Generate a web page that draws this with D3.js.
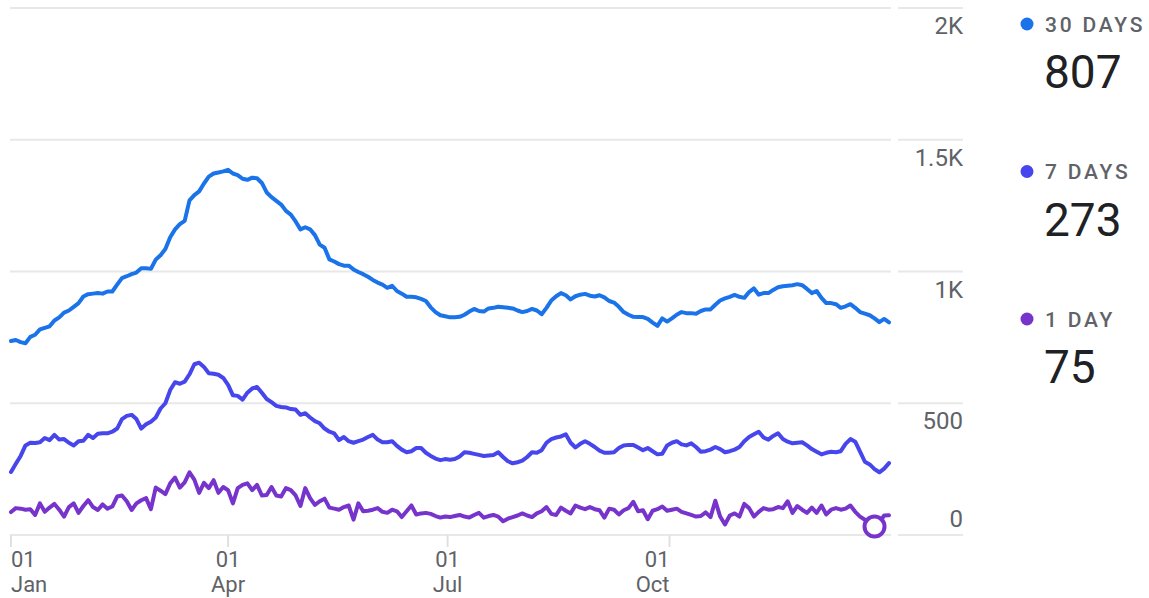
<!DOCTYPE html>
<html>
<head>
<meta charset="utf-8">
<script src="https://cdn.jsdelivr.net/npm/d3@7"></script>
<style>
  body { margin: 0; background: #fff; font-family: Roboto, "Noto Sans", sans-serif; }
  svg { display: block; }
</style>
</head>
<body>
<script>
// one value every 2 days, 1 Jan .. 31 Dec
var startDate = new Date(2023, 0, 1);
var stepDays = 2;

var thirtyDays = [
  736,740,732,728,752,760,780,786,792,814, 826,844,852,866,880,905,914,916,918,916,
  924,924,950,975,982,990,996,1012,1012,1010, 1045,1062,1085,1130,1160,1180,1192,1270,1290,1304,
  1334,1360,1372,1376,1380,1386,1372,1366,1352,1348, 1356,1354,1336,1300,1282,1268,1254,1230,1216,1190,
  1160,1168,1160,1138,1102,1090,1046,1038,1028,1022, 1022,1008,998,990,980,968,958,950,938,946,
  926,916,904,904,902,896,888,864,846,834, 830,826,826,828,836,848,858,850,848,860,
  862,866,864,862,860,852,846,850,858,852, 838,862,890,906,918,910,894,906,912,915,
  908,905,910,902,888,882,866,846,836,828, 827,827,820,806,794,822,810,822,836,846,
  842,842,840,850,856,856,874,890,898,904, 911,904,900,922,936,912,918,918,930,940,
  944,946,948,952,948,934,918,926,900,880, 880,876,862,868,876,862,846,840,834,822,
  808,820,807
];

var sevenDays = [
  239,270,300,340,350,349,352,368,360,380, 362,364,350,340,356,358,380,368,384,386,
  386,392,404,440,452,456,440,404,420,430, 446,480,500,550,580,574,582,610,648,654,
  638,614,612,608,596,570,530,528,514,540, 556,562,540,516,504,490,486,484,478,476,
  456,462,446,432,424,404,392,386,360,372, 356,350,356,362,372,380,362,352,352,356,
  338,324,314,318,330,330,312,300,290,284, 288,286,288,298,314,312,308,304,300,302,
  304,314,296,280,272,276,282,296,314,312, 322,350,364,370,374,382,350,332,346,356,
  346,334,320,312,312,314,330,340,342,342, 332,322,330,318,306,308,340,350,356,344,
  340,348,334,316,318,324,334,326,314,318, 324,334,356,372,382,392,370,362,376,386,
  364,354,348,350,352,340,326,316,306,312, 316,314,318,346,364,354,316,278,268,250,
  238,252,273
];

var oneDay = [
  87,102,100,96,98,76,120,88,104,118, 96,70,106,120,84,110,132,106,95,116,
  100,108,146,150,128,95,120,132,140,98, 180,168,155,196,218,180,200,238,210,160,
  198,178,208,160,182,170,120,178,190,196, 170,190,150,152,182,150,146,178,170,150,
  110,178,140,114,128,138,104,100,96,106, 112,58,120,90,92,96,102,88,84,96,
  90,68,90,112,78,82,84,80,72,66, 70,68,72,76,70,66,76,84,66,72,
  76,70,52,62,68,74,82,74,68,82, 90,106,80,76,104,92,82,112,104,98,
  106,98,94,66,100,96,78,94,102,126, 90,94,60,92,98,108,92,96,100,88,
  82,76,70,72,86,68,130,70,40,74, 82,70,118,102,70,88,102,96,98,106,
  102,128,84,110,96,84,104,84,112,78, 96,102,96,100,112,88,70,58,44,32,
  48,74,75
];

var seriesNames = ["30 DAYS", "7 DAYS", "1 DAY"];
var seriesColors = ["#1a73e8", "#4646ec", "#7634cc"];
var latestValues = [807, 273, 75];
var markerIndex = 179; // highlighted point on the 1 day line

var xTickDates = [new Date(2023, 0, 1), new Date(2023, 3, 1), new Date(2023, 6, 1), new Date(2023, 9, 1)];
var yTicks = [0, 500, 1000, 1500, 2000];
var yTickLabels = ["0", "500", "1K", "1.5K", "2K"];

var width = 1149, height = 598;

var svg = d3.select("body").append("svg")
    .attr("width", width)
    .attr("height", height);

var x = d3.scaleTime()
    .domain([startDate, new Date(2023, 11, 31)])
    .range([11, 889]);

var y = d3.scaleLinear()
    .domain([0, 2000])
    .range([535, 8]);

function dateAt(i) {
  return d3.timeDay.offset(startDate, i * stepDays);
}

// grid lines, split in a plot part and a label part
var grid = svg.append("g");
grid.selectAll(".g1")
    .data(yTicks)
  .enter().append("line")
    .attr("x1", 10).attr("x2", 891)
    .attr("y1", function(d) { return y(d); })
    .attr("y2", function(d) { return y(d); })
    .attr("stroke", "#e8e8e8")
    .attr("stroke-width", 2);
grid.selectAll(".g2")
    .data(yTicks)
  .enter().append("line")
    .attr("x1", 898).attr("x2", 963)
    .attr("y1", function(d) { return y(d); })
    .attr("y2", function(d) { return y(d); })
    .attr("stroke", "#e8e8e8")
    .attr("stroke-width", 2);

// y labels: 0 sits above its line, the rest below
grid.selectAll("text")
    .data(yTicks)
  .enter().append("text")
    .attr("x", 963)
    .attr("y", function(d) { return d === 0 ? y(d) - 8 : y(d) + 26; })
    .attr("text-anchor", "end")
    .attr("font-size", 24)
    .attr("fill", "#5f6368")
    .text(function(d, i) { return yTickLabels[i]; });

// x axis ticks
var xAxis = svg.append("g");
xAxis.selectAll("line")
    .data(xTickDates)
  .enter().append("line")
    .attr("x1", function(d) { return x(d); })
    .attr("x2", function(d) { return x(d); })
    .attr("y1", 535).attr("y2", 547)
    .attr("stroke", "#e0e0e0")
    .attr("stroke-width", 2);

function anchorFor(d, i) {
  return i === 0 ? "start" : (i === xTickDates.length - 1 ? "end" : "middle");
}

xAxis.selectAll(".day")
    .data(xTickDates)
  .enter().append("text")
    .attr("class", "day")
    .attr("x", function(d) { return x(d); })
    .attr("y", 567)
    .attr("text-anchor", anchorFor)
    .attr("font-size", 22)
    .attr("fill", "#5f6368")
    .text(d3.timeFormat("%d"));

xAxis.selectAll(".month")
    .data(xTickDates)
  .enter().append("text")
    .attr("class", "month")
    .attr("x", function(d) { return x(d); })
    .attr("y", 592)
    .attr("text-anchor", anchorFor)
    .attr("font-size", 22)
    .attr("fill", "#5f6368")
    .text(d3.timeFormat("%b"));

// lines
var line = d3.line()
    .x(function(d, i) { return x(dateAt(i)); })
    .y(function(d) { return y(d); });

[thirtyDays, sevenDays, oneDay].forEach(function(values, s) {
  svg.append("path")
      .datum(values)
      .attr("fill", "none")
      .attr("stroke", seriesColors[s])
      .attr("stroke-width", 4)
      .attr("stroke-linejoin", "round")
      .attr("stroke-linecap", "round")
      .attr("d", line);
});

// highlighted point
svg.append("circle")
    .attr("cx", x(dateAt(markerIndex)))
    .attr("cy", y(oneDay[markerIndex]))
    .attr("r", 10)
    .attr("fill", "#fff")
    .attr("stroke", seriesColors[2])
    .attr("stroke-width", 4);

// legend
var legend = svg.selectAll(".legend")
    .data(seriesNames)
  .enter().append("g")
    .attr("transform", function(d, i) { return "translate(1027," + (24 + i * 147.5) + ")"; });

legend.append("circle")
    .attr("r", 6.5)
    .attr("fill", function(d, i) { return seriesColors[i]; });

legend.append("text")
    .attr("x", 18)
    .attr("y", 7.5)
    .attr("font-size", 21)
    .attr("font-weight", 500)
    .attr("letter-spacing", 2.8)
    .attr("fill", "#5f6368")
    .text(function(d) { return d; });

legend.append("text")
    .attr("x", 17)
    .attr("y", 64)
    .attr("font-size", 46)
    .attr("fill", "#202124")
    .text(function(d, i) { return latestValues[i]; });
</script>
</body>
</html>
